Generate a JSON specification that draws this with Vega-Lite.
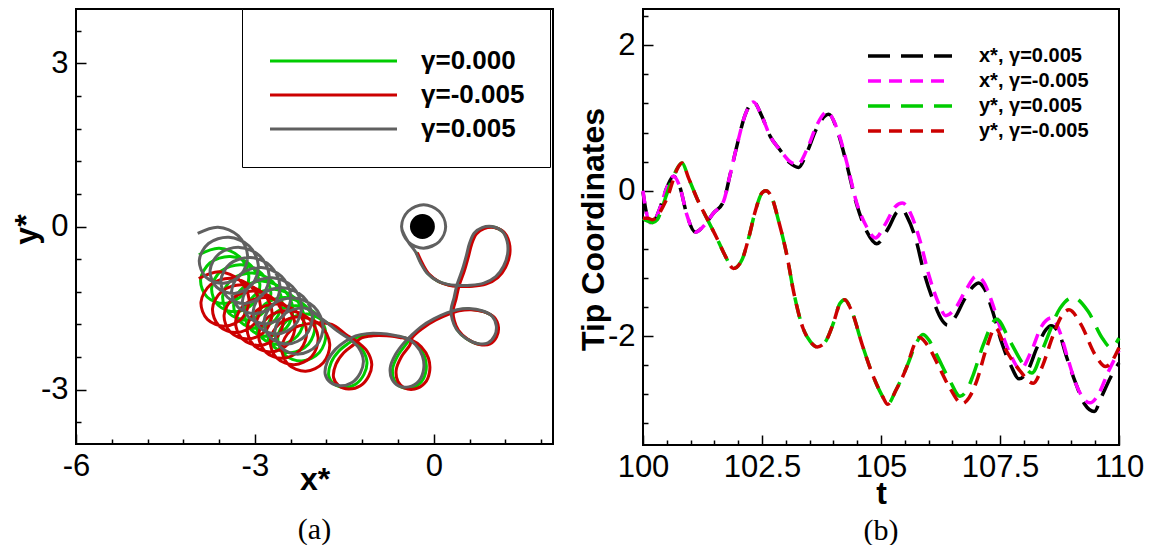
{
"$schema": "https://vega.github.io/schema/vega-lite/v6.json",
"background": "white",
"padding": {"left": 9, "top": 7, "right": 5, "bottom": 0},
"spacing": 90,
"bounds": "flush",
"resolve": {"scale": {"color": "independent", "strokeDash": "independent"}},
"config": {
  "view": {"stroke": "black", "strokeWidth": 2},
  "axis": {"grid": false, "domain": false, "tickColor": "black", "tickWidth": 1.5,
    "labelFont": "Liberation Sans", "labelFontSize": 31, "labelColor": "black", "labelFlush": false, "labelOverlap": false,
    "titleFont": "Liberation Sans", "titleFontSize": 32, "titleFontWeight": "bold", "titleColor": "black"},
  "title": {"font": "Liberation Serif", "fontSize": 30, "fontWeight": "normal", "color": "black"}
},
"datasets": {
"dot": [{"x": -0.19, "y": 0}],
"traj": [
{"g":"γ=0.000","x":-0.295,"y":-0.47},{"g":"γ=0.000","x":-0.205,"y":-0.68},{"g":"γ=0.000","x":-0.095,"y":-0.87},{"g":"γ=0.000","x":0.075,"y":-1.01},{"g":"γ=0.000","x":0.235,"y":-1.07},{"g":"γ=0.000","x":0.375,"y":-1.09},{"g":"γ=0.000","x":0.635,"y":-1.09},{"g":"γ=0.000","x":0.855,"y":-1.05},{"g":"γ=0.000","x":1.055,"y":-0.93},{"g":"γ=0.000","x":1.185,"y":-0.74},{"g":"γ=0.000","x":1.255,"y":-0.5},{"g":"γ=0.000","x":1.245,"y":-0.28},{"g":"γ=0.000","x":1.165,"y":-0.1},{"g":"γ=0.000","x":0.995,"y":-0.01},{"g":"γ=0.000","x":0.825,"y":-0.03},{"g":"γ=0.000","x":0.695,"y":-0.13},{"g":"γ=0.000","x":0.615,"y":-0.32},{"g":"γ=0.000","x":0.565,"y":-0.53},{"g":"γ=0.000","x":0.495,"y":-0.8},{"g":"γ=0.000","x":0.405,"y":-1.08},{"g":"γ=0.000","x":0.355,"y":-1.32},{"g":"γ=0.000","x":0.305,"y":-1.54},{"g":"γ=0.000","x":0.325,"y":-1.72},{"g":"γ=0.000","x":0.395,"y":-1.9},{"g":"γ=0.000","x":0.545,"y":-2.06},{"g":"γ=0.000","x":0.745,"y":-2.16},{"g":"γ=0.000","x":0.925,"y":-2.15},{"g":"γ=0.000","x":1.035,"y":-2.02},{"g":"γ=0.000","x":1.065,"y":-1.84},{"g":"γ=0.000","x":0.995,"y":-1.66},{"g":"γ=0.000","x":0.825,"y":-1.56},{"g":"γ=0.000","x":0.605,"y":-1.52},{"g":"γ=0.000","x":0.405,"y":-1.54},{"g":"γ=0.000","x":0.235,"y":-1.6},{"g":"γ=0.000","x":0.015,"y":-1.71},{"g":"γ=0.000","x":-0.205,"y":-1.86},{"g":"γ=0.000","x":-0.385,"y":-2.04},
{"g":"γ=0.000","x":-0.46,"y":-2.16},{"g":"γ=0.000","x":-0.6,"y":-2.37},{"g":"γ=0.000","x":-0.69,"y":-2.62},{"g":"γ=0.000","x":-0.66,"y":-2.83},{"g":"γ=0.000","x":-0.55,"y":-2.95},{"g":"γ=0.000","x":-0.38,"y":-2.97},{"g":"γ=0.000","x":-0.21,"y":-2.86},{"g":"γ=0.000","x":-0.13,"y":-2.65},{"g":"γ=0.000","x":-0.15,"y":-2.4},{"g":"γ=0.000","x":-0.27,"y":-2.19},{"g":"γ=0.000","x":-0.43,"y":-2.07},{"g":"γ=0.000","x":-0.63,"y":-2.02},{"g":"γ=0.000","x":-0.85,"y":-1.99},{"g":"γ=0.000","x":-1.08,"y":-1.99},{"g":"γ=0.000","x":-1.27,"y":-2.03},
{"g":"γ=0.000","x":-1.42,"y":-2.14},{"g":"γ=0.000","x":-1.59,"y":-2.29},{"g":"γ=0.000","x":-1.72,"y":-2.5},{"g":"γ=0.000","x":-1.76,"y":-2.75},{"g":"γ=0.000","x":-1.67,"y":-2.9},{"g":"γ=0.000","x":-1.51,"y":-2.96},{"g":"γ=0.000","x":-1.31,"y":-2.9},{"g":"γ=0.000","x":-1.17,"y":-2.72},{"g":"γ=0.000","x":-1.12,"y":-2.5},{"g":"γ=0.000","x":-1.2,"y":-2.26},{"g":"γ=0.000","x":-1.34,"y":-2.11},{"g":"γ=0.000","x":-1.56,"y":-1.95},{"g":"γ=0.000","x":-1.79,"y":-1.77},
{"g":"γ=0.000","x":-2.12,"y":-1.61},{"g":"γ=0.000","x":-2.461,"y":-1.729},{"g":"γ=0.000","x":-2.616,"y":-2.042},{"g":"γ=0.000","x":-2.507,"y":-2.355},{"g":"γ=0.000","x":-2.212,"y":-2.474},{"g":"γ=0.000","x":-1.918,"y":-2.318},{"g":"γ=0.000","x":-1.809,"y":-1.967},{"g":"γ=0.000","x":-1.964,"y":-1.616},
{"g":"γ=0.000","x":-2.305,"y":-1.459},{"g":"γ=0.000","x":-2.646,"y":-1.578},{"g":"γ=0.000","x":-2.801,"y":-1.891},{"g":"γ=0.000","x":-2.692,"y":-2.204},{"g":"γ=0.000","x":-2.397,"y":-2.323},{"g":"γ=0.000","x":-2.102,"y":-2.166},{"g":"γ=0.000","x":-1.993,"y":-1.815},{"g":"γ=0.000","x":-2.149,"y":-1.465},
{"g":"γ=0.000","x":-2.49,"y":-1.308},{"g":"γ=0.000","x":-2.831,"y":-1.427},{"g":"γ=0.000","x":-2.986,"y":-1.74},{"g":"γ=0.000","x":-2.877,"y":-2.053},{"g":"γ=0.000","x":-2.582,"y":-2.172},{"g":"γ=0.000","x":-2.287,"y":-2.015},{"g":"γ=0.000","x":-2.178,"y":-1.664},{"g":"γ=0.000","x":-2.333,"y":-1.313},
{"g":"γ=0.000","x":-2.674,"y":-1.156},{"g":"γ=0.000","x":-3.016,"y":-1.276},{"g":"γ=0.000","x":-3.171,"y":-1.589},{"g":"γ=0.000","x":-3.062,"y":-1.902},{"g":"γ=0.000","x":-2.767,"y":-2.021},{"g":"γ=0.000","x":-2.472,"y":-1.864},{"g":"γ=0.000","x":-2.363,"y":-1.513},{"g":"γ=0.000","x":-2.518,"y":-1.162},
{"g":"γ=0.000","x":-2.859,"y":-1.005},{"g":"γ=0.000","x":-3.2,"y":-1.124},{"g":"γ=0.000","x":-3.355,"y":-1.437},{"g":"γ=0.000","x":-3.247,"y":-1.751},{"g":"γ=0.000","x":-2.952,"y":-1.87},{"g":"γ=0.000","x":-2.657,"y":-1.713},{"g":"γ=0.000","x":-2.548,"y":-1.362},{"g":"γ=0.000","x":-2.703,"y":-1.011},
{"g":"γ=0.000","x":-3.044,"y":-0.854},{"g":"γ=0.000","x":-3.385,"y":-0.973},{"g":"γ=0.000","x":-3.54,"y":-1.286},{"g":"γ=0.000","x":-3.431,"y":-1.599},{"g":"γ=0.000","x":-3.136,"y":-1.718},{"g":"γ=0.000","x":-2.842,"y":-1.562},{"g":"γ=0.000","x":-2.733,"y":-1.211},{"g":"γ=0.000","x":-2.888,"y":-0.86},
{"g":"γ=0.000","x":-3.229,"y":-0.703},{"g":"γ=0.000","x":-3.57,"y":-0.822},{"g":"γ=0.000","x":-3.725,"y":-1.135},{"g":"γ=0.000","x":-3.616,"y":-1.448},{"g":"γ=0.000","x":-3.321,"y":-1.567},{"g":"γ=0.000","x":-3.026,"y":-1.41},{"g":"γ=0.000","x":-2.917,"y":-1.059},{"g":"γ=0.000","x":-3.073,"y":-0.709},
{"g":"γ=0.000","x":-3.414,"y":-0.552},{"g":"γ=0.000","x":-3.755,"y":-0.671},{"g":"γ=0.000","x":-3.91,"y":-0.984},{"g":"γ=0.000","x":-3.801,"y":-1.297},{"g":"γ=0.000","x":-3.506,"y":-1.416},{"g":"γ=0.000","x":-3.211,"y":-1.259},{"g":"γ=0.000","x":-3.102,"y":-0.908},{"g":"γ=0.000","x":-3.257,"y":-0.557},
{"g":"γ=0.000","x":-3.598,"y":-0.4},{"g":"γ=0.000","x":-3.939,"y":-0.519},

{"g":"γ=-0.005","x":-0.275,"y":-0.48},{"g":"γ=-0.005","x":-0.185,"y":-0.69},{"g":"γ=-0.005","x":-0.075,"y":-0.88},{"g":"γ=-0.005","x":0.095,"y":-1.02},{"g":"γ=-0.005","x":0.255,"y":-1.08},{"g":"γ=-0.005","x":0.395,"y":-1.1},{"g":"γ=-0.005","x":0.655,"y":-1.1},{"g":"γ=-0.005","x":0.875,"y":-1.06},{"g":"γ=-0.005","x":1.075,"y":-0.94},{"g":"γ=-0.005","x":1.205,"y":-0.75},{"g":"γ=-0.005","x":1.275,"y":-0.51},{"g":"γ=-0.005","x":1.265,"y":-0.29},{"g":"γ=-0.005","x":1.185,"y":-0.11},{"g":"γ=-0.005","x":1.015,"y":-0.02},{"g":"γ=-0.005","x":0.845,"y":-0.04},{"g":"γ=-0.005","x":0.715,"y":-0.14},{"g":"γ=-0.005","x":0.635,"y":-0.33},{"g":"γ=-0.005","x":0.585,"y":-0.54},{"g":"γ=-0.005","x":0.515,"y":-0.81},{"g":"γ=-0.005","x":0.425,"y":-1.09},{"g":"γ=-0.005","x":0.375,"y":-1.33},{"g":"γ=-0.005","x":0.325,"y":-1.55},{"g":"γ=-0.005","x":0.345,"y":-1.73},{"g":"γ=-0.005","x":0.415,"y":-1.91},{"g":"γ=-0.005","x":0.565,"y":-2.07},{"g":"γ=-0.005","x":0.765,"y":-2.17},{"g":"γ=-0.005","x":0.945,"y":-2.16},{"g":"γ=-0.005","x":1.055,"y":-2.03},{"g":"γ=-0.005","x":1.085,"y":-1.85},{"g":"γ=-0.005","x":1.015,"y":-1.67},{"g":"γ=-0.005","x":0.845,"y":-1.57},{"g":"γ=-0.005","x":0.625,"y":-1.53},{"g":"γ=-0.005","x":0.425,"y":-1.55},{"g":"γ=-0.005","x":0.255,"y":-1.61},{"g":"γ=-0.005","x":0.035,"y":-1.72},{"g":"γ=-0.005","x":-0.185,"y":-1.87},{"g":"γ=-0.005","x":-0.365,"y":-2.05},
{"g":"γ=-0.005","x":-0.4,"y":-2.18},{"g":"γ=-0.005","x":-0.54,"y":-2.39},{"g":"γ=-0.005","x":-0.63,"y":-2.64},{"g":"γ=-0.005","x":-0.6,"y":-2.85},{"g":"γ=-0.005","x":-0.49,"y":-2.97},{"g":"γ=-0.005","x":-0.32,"y":-2.99},{"g":"γ=-0.005","x":-0.15,"y":-2.88},{"g":"γ=-0.005","x":-0.07,"y":-2.67},{"g":"γ=-0.005","x":-0.09,"y":-2.42},{"g":"γ=-0.005","x":-0.21,"y":-2.21},{"g":"γ=-0.005","x":-0.37,"y":-2.09},{"g":"γ=-0.005","x":-0.57,"y":-2.04},{"g":"γ=-0.005","x":-0.79,"y":-2.01},{"g":"γ=-0.005","x":-1.02,"y":-2.01},{"g":"γ=-0.005","x":-1.21,"y":-2.05},
{"g":"γ=-0.005","x":-1.34,"y":-2.17},{"g":"γ=-0.005","x":-1.51,"y":-2.32},{"g":"γ=-0.005","x":-1.64,"y":-2.53},{"g":"γ=-0.005","x":-1.68,"y":-2.78},{"g":"γ=-0.005","x":-1.59,"y":-2.93},{"g":"γ=-0.005","x":-1.43,"y":-2.99},{"g":"γ=-0.005","x":-1.23,"y":-2.93},{"g":"γ=-0.005","x":-1.09,"y":-2.75},{"g":"γ=-0.005","x":-1.04,"y":-2.53},{"g":"γ=-0.005","x":-1.12,"y":-2.29},{"g":"γ=-0.005","x":-1.26,"y":-2.14},{"g":"γ=-0.005","x":-1.48,"y":-1.98},{"g":"γ=-0.005","x":-1.71,"y":-1.8},
{"g":"γ=-0.005","x":-2.05,"y":-1.78},{"g":"γ=-0.005","x":-2.392,"y":-1.903},{"g":"γ=-0.005","x":-2.548,"y":-2.22},{"g":"γ=-0.005","x":-2.441,"y":-2.538},{"g":"γ=-0.005","x":-2.147,"y":-2.661},{"g":"γ=-0.005","x":-1.853,"y":-2.508},{"g":"γ=-0.005","x":-1.745,"y":-2.161},{"g":"γ=-0.005","x":-1.901,"y":-1.814},
{"g":"γ=-0.005","x":-2.244,"y":-1.662},{"g":"γ=-0.005","x":-2.586,"y":-1.785},{"g":"γ=-0.005","x":-2.742,"y":-2.102},{"g":"γ=-0.005","x":-2.634,"y":-2.419},{"g":"γ=-0.005","x":-2.34,"y":-2.542},{"g":"γ=-0.005","x":-2.047,"y":-2.39},{"g":"γ=-0.005","x":-1.939,"y":-2.043},{"g":"γ=-0.005","x":-2.095,"y":-1.696},
{"g":"γ=-0.005","x":-2.437,"y":-1.543},{"g":"γ=-0.005","x":-2.779,"y":-1.666},{"g":"γ=-0.005","x":-2.936,"y":-1.984},{"g":"γ=-0.005","x":-2.828,"y":-2.301},{"g":"γ=-0.005","x":-2.534,"y":-2.424},{"g":"γ=-0.005","x":-2.24,"y":-2.271},{"g":"γ=-0.005","x":-2.132,"y":-1.924},{"g":"γ=-0.005","x":-2.289,"y":-1.578},
{"g":"γ=-0.005","x":-2.631,"y":-1.425},{"g":"γ=-0.005","x":-2.973,"y":-1.548},{"g":"γ=-0.005","x":-3.129,"y":-1.865},{"g":"γ=-0.005","x":-3.021,"y":-2.182},{"g":"γ=-0.005","x":-2.728,"y":-2.306},{"g":"γ=-0.005","x":-2.434,"y":-2.153},{"g":"γ=-0.005","x":-2.326,"y":-1.806},{"g":"γ=-0.005","x":-2.482,"y":-1.459},
{"g":"γ=-0.005","x":-2.824,"y":-1.306},{"g":"γ=-0.005","x":-3.167,"y":-1.43},{"g":"γ=-0.005","x":-3.323,"y":-1.747},{"g":"γ=-0.005","x":-3.215,"y":-2.064},{"g":"γ=-0.005","x":-2.921,"y":-2.187},{"g":"γ=-0.005","x":-2.627,"y":-2.034},{"g":"γ=-0.005","x":-2.52,"y":-1.688},{"g":"γ=-0.005","x":-2.676,"y":-1.341},
{"g":"γ=-0.005","x":-3.018,"y":-1.188},{"g":"γ=-0.005","x":-3.36,"y":-1.311},{"g":"γ=-0.005","x":-3.516,"y":-1.628},{"g":"γ=-0.005","x":-3.409,"y":-1.946},{"g":"γ=-0.005","x":-3.115,"y":-2.069},{"g":"γ=-0.005","x":-2.821,"y":-1.916},{"g":"γ=-0.005","x":-2.713,"y":-1.569},{"g":"γ=-0.005","x":-2.869,"y":-1.222},
{"g":"γ=-0.005","x":-3.212,"y":-1.07},{"g":"γ=-0.005","x":-3.554,"y":-1.193},{"g":"γ=-0.005","x":-3.71,"y":-1.51},{"g":"γ=-0.005","x":-3.602,"y":-1.827},{"g":"γ=-0.005","x":-3.308,"y":-1.95},{"g":"γ=-0.005","x":-3.015,"y":-1.798},{"g":"γ=-0.005","x":-2.907,"y":-1.451},{"g":"γ=-0.005","x":-3.063,"y":-1.104},
{"g":"γ=-0.005","x":-3.405,"y":-0.951},{"g":"γ=-0.005","x":-3.747,"y":-1.074},{"g":"γ=-0.005","x":-3.904,"y":-1.392},{"g":"γ=-0.005","x":-3.796,"y":-1.709},{"g":"γ=-0.005","x":-3.502,"y":-1.832},{"g":"γ=-0.005","x":-3.208,"y":-1.679},{"g":"γ=-0.005","x":-3.1,"y":-1.332},{"g":"γ=-0.005","x":-3.257,"y":-0.986},
{"g":"γ=-0.005","x":-3.599,"y":-0.833},{"g":"γ=-0.005","x":-3.941,"y":-0.956},

{"g":"γ=0.005","x":-0.17,"y":-0.4},{"g":"γ=0.005","x":0.09,"y":-0.28},{"g":"γ=0.005","x":0.2,"y":0},{"g":"γ=0.005","x":0.09,"y":0.28},{"g":"γ=0.005","x":-0.17,"y":0.4},{"g":"γ=0.005","x":-0.43,"y":0.28},{"g":"γ=0.005","x":-0.54,"y":0},{"g":"γ=0.005","x":-0.43,"y":-0.28},{"g":"γ=0.005","x":-0.17,"y":-0.4},{"g":"γ=0.005","x":0.09,"y":-0.28},{"g":"γ=0.005","x":0.2,"y":0},{"g":"γ=0.005","x":0.09,"y":0.28},{"g":"γ=0.005","x":-0.17,"y":0.4},{"g":"γ=0.005","x":-0.43,"y":0.28},{"g":"γ=0.005","x":-0.54,"y":0},{"g":"γ=0.005","x":-0.43,"y":-0.28},
{"g":"γ=0.005","x":-0.31,"y":-0.46},{"g":"γ=0.005","x":-0.22,"y":-0.67},{"g":"γ=0.005","x":-0.11,"y":-0.86},{"g":"γ=0.005","x":0.06,"y":-1.0},{"g":"γ=0.005","x":0.22,"y":-1.06},{"g":"γ=0.005","x":0.36,"y":-1.08},{"g":"γ=0.005","x":0.62,"y":-1.08},{"g":"γ=0.005","x":0.84,"y":-1.04},{"g":"γ=0.005","x":1.04,"y":-0.92},{"g":"γ=0.005","x":1.17,"y":-0.73},{"g":"γ=0.005","x":1.24,"y":-0.49},{"g":"γ=0.005","x":1.23,"y":-0.27},{"g":"γ=0.005","x":1.15,"y":-0.09},{"g":"γ=0.005","x":0.98,"y":0.0},{"g":"γ=0.005","x":0.81,"y":-0.02},{"g":"γ=0.005","x":0.68,"y":-0.12},{"g":"γ=0.005","x":0.6,"y":-0.31},{"g":"γ=0.005","x":0.55,"y":-0.52},{"g":"γ=0.005","x":0.48,"y":-0.79},{"g":"γ=0.005","x":0.39,"y":-1.07},{"g":"γ=0.005","x":0.34,"y":-1.31},{"g":"γ=0.005","x":0.29,"y":-1.53},{"g":"γ=0.005","x":0.31,"y":-1.71},{"g":"γ=0.005","x":0.38,"y":-1.89},{"g":"γ=0.005","x":0.53,"y":-2.05},{"g":"γ=0.005","x":0.73,"y":-2.15},{"g":"γ=0.005","x":0.91,"y":-2.14},{"g":"γ=0.005","x":1.02,"y":-2.01},{"g":"γ=0.005","x":1.05,"y":-1.83},{"g":"γ=0.005","x":0.98,"y":-1.65},{"g":"γ=0.005","x":0.81,"y":-1.55},{"g":"γ=0.005","x":0.59,"y":-1.51},{"g":"γ=0.005","x":0.39,"y":-1.53},{"g":"γ=0.005","x":0.22,"y":-1.59},{"g":"γ=0.005","x":0.0,"y":-1.7},{"g":"γ=0.005","x":-0.22,"y":-1.85},{"g":"γ=0.005","x":-0.4,"y":-2.03},
{"g":"γ=0.005","x":-0.5,"y":-2.14},{"g":"γ=0.005","x":-0.64,"y":-2.35},{"g":"γ=0.005","x":-0.73,"y":-2.6},{"g":"γ=0.005","x":-0.7,"y":-2.81},{"g":"γ=0.005","x":-0.59,"y":-2.93},{"g":"γ=0.005","x":-0.42,"y":-2.95},{"g":"γ=0.005","x":-0.25,"y":-2.84},{"g":"γ=0.005","x":-0.17,"y":-2.63},{"g":"γ=0.005","x":-0.19,"y":-2.38},{"g":"γ=0.005","x":-0.31,"y":-2.17},{"g":"γ=0.005","x":-0.47,"y":-2.05},{"g":"γ=0.005","x":-0.67,"y":-2.0},{"g":"γ=0.005","x":-0.89,"y":-1.97},{"g":"γ=0.005","x":-1.12,"y":-1.97},{"g":"γ=0.005","x":-1.31,"y":-2.01},
{"g":"γ=0.005","x":-1.48,"y":-2.11},{"g":"γ=0.005","x":-1.65,"y":-2.26},{"g":"γ=0.005","x":-1.78,"y":-2.47},{"g":"γ=0.005","x":-1.82,"y":-2.72},{"g":"γ=0.005","x":-1.73,"y":-2.87},{"g":"γ=0.005","x":-1.57,"y":-2.93},{"g":"γ=0.005","x":-1.37,"y":-2.87},{"g":"γ=0.005","x":-1.23,"y":-2.69},{"g":"γ=0.005","x":-1.18,"y":-2.47},{"g":"γ=0.005","x":-1.26,"y":-2.23},{"g":"γ=0.005","x":-1.4,"y":-2.08},{"g":"γ=0.005","x":-1.62,"y":-1.92},{"g":"γ=0.005","x":-1.85,"y":-1.72},
{"g":"γ=0.005","x":-2.17,"y":-1.5},{"g":"γ=0.005","x":-2.511,"y":-1.615},{"g":"γ=0.005","x":-2.665,"y":-1.924},{"g":"γ=0.005","x":-2.556,"y":-2.232},{"g":"γ=0.005","x":-2.261,"y":-2.347},{"g":"γ=0.005","x":-1.965,"y":-2.186},{"g":"γ=0.005","x":-1.856,"y":-1.831},{"g":"γ=0.005","x":-2.01,"y":-1.475},
{"g":"γ=0.005","x":-2.351,"y":-1.314},{"g":"γ=0.005","x":-2.692,"y":-1.429},{"g":"γ=0.005","x":-2.846,"y":-1.738},{"g":"γ=0.005","x":-2.737,"y":-2.046},{"g":"γ=0.005","x":-2.442,"y":-2.161},{"g":"γ=0.005","x":-2.146,"y":-2.0},{"g":"γ=0.005","x":-2.037,"y":-1.645},{"g":"γ=0.005","x":-2.191,"y":-1.289},
{"g":"γ=0.005","x":-2.532,"y":-1.128},{"g":"γ=0.005","x":-2.873,"y":-1.243},{"g":"γ=0.005","x":-3.027,"y":-1.552},{"g":"γ=0.005","x":-2.918,"y":-1.86},{"g":"γ=0.005","x":-2.623,"y":-1.975},{"g":"γ=0.005","x":-2.327,"y":-1.814},{"g":"γ=0.005","x":-2.218,"y":-1.459},{"g":"γ=0.005","x":-2.372,"y":-1.103},
{"g":"γ=0.005","x":-2.713,"y":-0.942},{"g":"γ=0.005","x":-3.054,"y":-1.057},{"g":"γ=0.005","x":-3.208,"y":-1.366},{"g":"γ=0.005","x":-3.099,"y":-1.674},{"g":"γ=0.005","x":-2.804,"y":-1.789},{"g":"γ=0.005","x":-2.508,"y":-1.628},{"g":"γ=0.005","x":-2.399,"y":-1.273},{"g":"γ=0.005","x":-2.553,"y":-0.917},
{"g":"γ=0.005","x":-2.894,"y":-0.756},{"g":"γ=0.005","x":-3.235,"y":-0.871},{"g":"γ=0.005","x":-3.389,"y":-1.18},{"g":"γ=0.005","x":-3.28,"y":-1.488},{"g":"γ=0.005","x":-2.985,"y":-1.603},{"g":"γ=0.005","x":-2.689,"y":-1.442},{"g":"γ=0.005","x":-2.58,"y":-1.087},{"g":"γ=0.005","x":-2.734,"y":-0.731},
{"g":"γ=0.005","x":-3.075,"y":-0.57},{"g":"γ=0.005","x":-3.416,"y":-0.685},{"g":"γ=0.005","x":-3.57,"y":-0.994},{"g":"γ=0.005","x":-3.461,"y":-1.302},{"g":"γ=0.005","x":-3.166,"y":-1.417},{"g":"γ=0.005","x":-2.87,"y":-1.256},{"g":"γ=0.005","x":-2.761,"y":-0.901},{"g":"γ=0.005","x":-2.915,"y":-0.545},
{"g":"γ=0.005","x":-3.256,"y":-0.384},{"g":"γ=0.005","x":-3.597,"y":-0.499},{"g":"γ=0.005","x":-3.751,"y":-0.808},{"g":"γ=0.005","x":-3.642,"y":-1.116},{"g":"γ=0.005","x":-3.347,"y":-1.231},{"g":"γ=0.005","x":-3.051,"y":-1.07},{"g":"γ=0.005","x":-2.942,"y":-0.715},{"g":"γ=0.005","x":-3.096,"y":-0.359},
{"g":"γ=0.005","x":-3.437,"y":-0.198},{"g":"γ=0.005","x":-3.778,"y":-0.313},{"g":"γ=0.005","x":-3.932,"y":-0.622},{"g":"γ=0.005","x":-3.823,"y":-0.93},{"g":"γ=0.005","x":-3.528,"y":-1.045},{"g":"γ=0.005","x":-3.232,"y":-0.884},{"g":"γ=0.005","x":-3.123,"y":-0.529},{"g":"γ=0.005","x":-3.277,"y":-0.173},
{"g":"γ=0.005","x":-3.618,"y":-0.012},{"g":"γ=0.005","x":-3.959,"y":-0.127}
],
"ts": [
{"s":"x*, γ=0.005","t":100.0,"v":-0.02},{"s":"x*, γ=0.005","t":100.07,"v":-0.3},{"s":"x*, γ=0.005","t":100.15,"v":-0.44},{"s":"x*, γ=0.005","t":100.25,"v":-0.4},{"s":"x*, γ=0.005","t":100.35,"v":-0.25},{"s":"x*, γ=0.005","t":100.5,"v":0.04},{"s":"x*, γ=0.005","t":100.64,"v":0.2},{"s":"x*, γ=0.005","t":100.78,"v":0.04},{"s":"x*, γ=0.005","t":100.92,"v":-0.33},{"s":"x*, γ=0.005","t":101.1,"v":-0.57},{"s":"x*, γ=0.005","t":101.27,"v":-0.49},{"s":"x*, γ=0.005","t":101.48,"v":-0.31},{"s":"x*, γ=0.005","t":101.69,"v":-0.15},{"s":"x*, γ=0.005","t":101.83,"v":0.22},{"s":"x*, γ=0.005","t":101.97,"v":0.61},{"s":"x*, γ=0.005","t":102.15,"v":1.05},{"s":"x*, γ=0.005","t":102.32,"v":1.22},{"s":"x*, γ=0.005","t":102.5,"v":1.02},{"s":"x*, γ=0.005","t":102.67,"v":0.75},{"s":"x*, γ=0.005","t":102.88,"v":0.56},{"s":"x*, γ=0.005","t":103.09,"v":0.38},{"s":"x*, γ=0.005","t":103.27,"v":0.32},{"s":"x*, γ=0.005","t":103.44,"v":0.52},{"s":"x*, γ=0.005","t":103.65,"v":0.86},{"s":"x*, γ=0.005","t":103.9,"v":1.05},{"s":"x*, γ=0.005","t":104.11,"v":0.77},{"s":"x*, γ=0.005","t":104.28,"v":0.36},{"s":"x*, γ=0.005","t":104.49,"v":-0.19},{"s":"x*, γ=0.005","t":104.7,"v":-0.56},{"s":"x*, γ=0.005","t":104.91,"v":-0.73},{"s":"x*, γ=0.005","t":105.16,"v":-0.51},{"s":"x*, γ=0.005","t":105.33,"v":-0.3},{"s":"x*, γ=0.005","t":105.45,"v":-0.26},{"s":"x*, γ=0.005","t":105.55,"v":-0.36},{"s":"x*, γ=0.005","t":105.74,"v":-0.69},{"s":"x*, γ=0.005","t":105.9,"v":-1.12},{"s":"x*, γ=0.005","t":106.09,"v":-1.5},{"s":"x*, γ=0.005","t":106.29,"v":-1.79},{"s":"x*, γ=0.005","t":106.4,"v":-1.85},{"s":"x*, γ=0.005","t":106.56,"v":-1.74},{"s":"x*, γ=0.005","t":106.75,"v":-1.5},{"s":"x*, γ=0.005","t":106.95,"v":-1.31},{"s":"x*, γ=0.005","t":107.05,"v":-1.27},{"s":"x*, γ=0.005","t":107.18,"v":-1.36},{"s":"x*, γ=0.005","t":107.34,"v":-1.65},{"s":"x*, γ=0.005","t":107.53,"v":-2.08},{"s":"x*, γ=0.005","t":107.73,"v":-2.41},{"s":"x*, γ=0.005","t":107.9,"v":-2.59},{"s":"x*, γ=0.005","t":108.08,"v":-2.48},{"s":"x*, γ=0.005","t":108.27,"v":-2.17},{"s":"x*, γ=0.005","t":108.47,"v":-1.91},{"s":"x*, γ=0.005","t":108.57,"v":-1.86},{"s":"x*, γ=0.005","t":108.74,"v":-1.96},{"s":"x*, γ=0.005","t":108.89,"v":-2.27},{"s":"x*, γ=0.005","t":109.09,"v":-2.65},{"s":"x*, γ=0.005","t":109.28,"v":-2.94},{"s":"x*, γ=0.005","t":109.48,"v":-3.04},{"s":"x*, γ=0.005","t":109.63,"v":-2.84},{"s":"x*, γ=0.005","t":109.83,"v":-2.56},{"s":"x*, γ=0.005","t":110.0,"v":-2.37},

{"s":"x*, γ=-0.005","t":100.0,"v":0.0},{"s":"x*, γ=-0.005","t":100.07,"v":-0.3},{"s":"x*, γ=-0.005","t":100.15,"v":-0.44},{"s":"x*, γ=-0.005","t":100.25,"v":-0.4},{"s":"x*, γ=-0.005","t":100.35,"v":-0.25},{"s":"x*, γ=-0.005","t":100.5,"v":0.04},{"s":"x*, γ=-0.005","t":100.64,"v":0.2},{"s":"x*, γ=-0.005","t":100.78,"v":0.04},{"s":"x*, γ=-0.005","t":100.92,"v":-0.33},{"s":"x*, γ=-0.005","t":101.1,"v":-0.57},{"s":"x*, γ=-0.005","t":101.27,"v":-0.49},{"s":"x*, γ=-0.005","t":101.48,"v":-0.31},{"s":"x*, γ=-0.005","t":101.69,"v":-0.15},{"s":"x*, γ=-0.005","t":101.83,"v":0.22},{"s":"x*, γ=-0.005","t":101.97,"v":0.61},{"s":"x*, γ=-0.005","t":102.15,"v":1.05},{"s":"x*, γ=-0.005","t":102.32,"v":1.22},{"s":"x*, γ=-0.005","t":102.5,"v":1.02},{"s":"x*, γ=-0.005","t":102.67,"v":0.75},{"s":"x*, γ=-0.005","t":102.88,"v":0.56},{"s":"x*, γ=-0.005","t":103.09,"v":0.4},{"s":"x*, γ=-0.005","t":103.25,"v":0.36},{"s":"x*, γ=-0.005","t":103.44,"v":0.56},{"s":"x*, γ=-0.005","t":103.65,"v":0.9},{"s":"x*, γ=-0.005","t":103.86,"v":1.08},{"s":"x*, γ=-0.005","t":104.11,"v":0.79},{"s":"x*, γ=-0.005","t":104.28,"v":0.39},{"s":"x*, γ=-0.005","t":104.49,"v":-0.17},{"s":"x*, γ=-0.005","t":104.7,"v":-0.5},{"s":"x*, γ=-0.005","t":104.88,"v":-0.65},{"s":"x*, γ=-0.005","t":105.1,"v":-0.45},{"s":"x*, γ=-0.005","t":105.3,"v":-0.22},{"s":"x*, γ=-0.005","t":105.45,"v":-0.17},{"s":"x*, γ=-0.005","t":105.62,"v":-0.31},{"s":"x*, γ=-0.005","t":105.82,"v":-0.69},{"s":"x*, γ=-0.005","t":106.01,"v":-1.17},{"s":"x*, γ=-0.005","t":106.21,"v":-1.55},{"s":"x*, γ=-0.005","t":106.36,"v":-1.72},{"s":"x*, γ=-0.005","t":106.56,"v":-1.62},{"s":"x*, γ=-0.005","t":106.79,"v":-1.36},{"s":"x*, γ=-0.005","t":107.0,"v":-1.18},{"s":"x*, γ=-0.005","t":107.14,"v":-1.24},{"s":"x*, γ=-0.005","t":107.34,"v":-1.55},{"s":"x*, γ=-0.005","t":107.53,"v":-1.94},{"s":"x*, γ=-0.005","t":107.73,"v":-2.27},{"s":"x*, γ=-0.005","t":107.93,"v":-2.46},{"s":"x*, γ=-0.005","t":108.15,"v":-2.22},{"s":"x*, γ=-0.005","t":108.38,"v":-1.86},{"s":"x*, γ=-0.005","t":108.59,"v":-1.75},{"s":"x*, γ=-0.005","t":108.76,"v":-1.95},{"s":"x*, γ=-0.005","t":108.92,"v":-2.3},{"s":"x*, γ=-0.005","t":109.12,"v":-2.7},{"s":"x*, γ=-0.005","t":109.39,"v":-2.92},{"s":"x*, γ=-0.005","t":109.57,"v":-2.8},{"s":"x*, γ=-0.005","t":109.77,"v":-2.5},{"s":"x*, γ=-0.005","t":110.0,"v":-2.2},

{"s":"y*, γ=0.005","t":100.0,"v":-0.38},{"s":"y*, γ=0.005","t":100.1,"v":-0.42},{"s":"y*, γ=0.005","t":100.2,"v":-0.44},{"s":"y*, γ=0.005","t":100.3,"v":-0.4},{"s":"y*, γ=0.005","t":100.42,"v":-0.2},{"s":"y*, γ=0.005","t":100.55,"v":0.05},{"s":"y*, γ=0.005","t":100.64,"v":0.2},{"s":"y*, γ=0.005","t":100.74,"v":0.33},{"s":"y*, γ=0.005","t":100.82,"v":0.38},{"s":"y*, γ=0.005","t":100.96,"v":0.17},{"s":"y*, γ=0.005","t":101.13,"v":-0.1},{"s":"y*, γ=0.005","t":101.34,"v":-0.38},{"s":"y*, γ=0.005","t":101.55,"v":-0.65},{"s":"y*, γ=0.005","t":101.73,"v":-0.9},{"s":"y*, γ=0.005","t":101.9,"v":-1.07},{"s":"y*, γ=0.005","t":102.08,"v":-0.95},{"s":"y*, γ=0.005","t":102.22,"v":-0.65},{"s":"y*, γ=0.005","t":102.36,"v":-0.28},{"s":"y*, γ=0.005","t":102.5,"v":-0.03},{"s":"y*, γ=0.005","t":102.58,"v":0.0},{"s":"y*, γ=0.005","t":102.71,"v":-0.1},{"s":"y*, γ=0.005","t":102.85,"v":-0.42},{"s":"y*, γ=0.005","t":103.02,"v":-0.88},{"s":"y*, γ=0.005","t":103.17,"v":-1.41},{"s":"y*, γ=0.005","t":103.36,"v":-1.89},{"s":"y*, γ=0.005","t":103.52,"v":-2.08},{"s":"y*, γ=0.005","t":103.66,"v":-2.15},{"s":"y*, γ=0.005","t":103.83,"v":-2.08},{"s":"y*, γ=0.005","t":103.99,"v":-1.84},{"s":"y*, γ=0.005","t":104.14,"v":-1.55},{"s":"y*, γ=0.005","t":104.24,"v":-1.5},{"s":"y*, γ=0.005","t":104.38,"v":-1.65},{"s":"y*, γ=0.005","t":104.61,"v":-2.13},{"s":"y*, γ=0.005","t":104.84,"v":-2.56},{"s":"y*, γ=0.005","t":105.04,"v":-2.84},{"s":"y*, γ=0.005","t":105.14,"v":-2.94},{"s":"y*, γ=0.005","t":105.31,"v":-2.75},{"s":"y*, γ=0.005","t":105.55,"v":-2.41},{"s":"y*, γ=0.005","t":105.74,"v":-2.1},{"s":"y*, γ=0.005","t":105.88,"v":-1.98},{"s":"y*, γ=0.005","t":106.0,"v":-2.05},{"s":"y*, γ=0.005","t":106.17,"v":-2.26},{"s":"y*, γ=0.005","t":106.45,"v":-2.62},{"s":"y*, γ=0.005","t":106.66,"v":-2.83},{"s":"y*, γ=0.005","t":106.8,"v":-2.75},{"s":"y*, γ=0.005","t":106.94,"v":-2.53},{"s":"y*, γ=0.005","t":107.15,"v":-2.12},{"s":"y*, γ=0.005","t":107.43,"v":-1.77},{"s":"y*, γ=0.005","t":107.71,"v":-2.07},{"s":"y*, γ=0.005","t":107.99,"v":-2.39},{"s":"y*, γ=0.005","t":108.17,"v":-2.51},{"s":"y*, γ=0.005","t":108.41,"v":-2.16},{"s":"y*, γ=0.005","t":108.76,"v":-1.62},{"s":"y*, γ=0.005","t":109.03,"v":-1.47},{"s":"y*, γ=0.005","t":109.35,"v":-1.66},{"s":"y*, γ=0.005","t":109.65,"v":-2.03},{"s":"y*, γ=0.005","t":109.83,"v":-2.16},{"s":"y*, γ=0.005","t":110.0,"v":-2.03},

{"s":"y*, γ=-0.005","t":100.0,"v":-0.38},{"s":"y*, γ=-0.005","t":100.1,"v":-0.38},{"s":"y*, γ=-0.005","t":100.2,"v":-0.4},{"s":"y*, γ=-0.005","t":100.3,"v":-0.35},{"s":"y*, γ=-0.005","t":100.42,"v":-0.22},{"s":"y*, γ=-0.005","t":100.52,"v":-0.08},{"s":"y*, γ=-0.005","t":100.62,"v":0.12},{"s":"y*, γ=-0.005","t":100.72,"v":0.3},{"s":"y*, γ=-0.005","t":100.82,"v":0.38},{"s":"y*, γ=-0.005","t":100.96,"v":0.17},{"s":"y*, γ=-0.005","t":101.13,"v":-0.1},{"s":"y*, γ=-0.005","t":101.34,"v":-0.38},{"s":"y*, γ=-0.005","t":101.55,"v":-0.65},{"s":"y*, γ=-0.005","t":101.73,"v":-0.9},{"s":"y*, γ=-0.005","t":101.9,"v":-1.07},{"s":"y*, γ=-0.005","t":102.08,"v":-0.95},{"s":"y*, γ=-0.005","t":102.22,"v":-0.65},{"s":"y*, γ=-0.005","t":102.36,"v":-0.28},{"s":"y*, γ=-0.005","t":102.5,"v":-0.03},{"s":"y*, γ=-0.005","t":102.58,"v":0.0},{"s":"y*, γ=-0.005","t":102.71,"v":-0.1},{"s":"y*, γ=-0.005","t":102.85,"v":-0.42},{"s":"y*, γ=-0.005","t":103.02,"v":-0.88},{"s":"y*, γ=-0.005","t":103.17,"v":-1.41},{"s":"y*, γ=-0.005","t":103.36,"v":-1.89},{"s":"y*, γ=-0.005","t":103.52,"v":-2.08},{"s":"y*, γ=-0.005","t":103.66,"v":-2.15},{"s":"y*, γ=-0.005","t":103.83,"v":-2.08},{"s":"y*, γ=-0.005","t":103.99,"v":-1.84},{"s":"y*, γ=-0.005","t":104.14,"v":-1.55},{"s":"y*, γ=-0.005","t":104.24,"v":-1.5},{"s":"y*, γ=-0.005","t":104.38,"v":-1.65},{"s":"y*, γ=-0.005","t":104.61,"v":-2.13},{"s":"y*, γ=-0.005","t":104.84,"v":-2.56},{"s":"y*, γ=-0.005","t":105.04,"v":-2.84},{"s":"y*, γ=-0.005","t":105.14,"v":-2.94},{"s":"y*, γ=-0.005","t":105.31,"v":-2.75},{"s":"y*, γ=-0.005","t":105.55,"v":-2.41},{"s":"y*, γ=-0.005","t":105.7,"v":-2.12},{"s":"y*, γ=-0.005","t":105.81,"v":-2.02},{"s":"y*, γ=-0.005","t":106.0,"v":-2.15},{"s":"y*, γ=-0.005","t":106.2,"v":-2.4},{"s":"y*, γ=-0.005","t":106.45,"v":-2.72},{"s":"y*, γ=-0.005","t":106.7,"v":-2.93},{"s":"y*, γ=-0.005","t":106.85,"v":-2.85},{"s":"y*, γ=-0.005","t":107.01,"v":-2.62},{"s":"y*, γ=-0.005","t":107.22,"v":-2.16},{"s":"y*, γ=-0.005","t":107.4,"v":-1.89},{"s":"y*, γ=-0.005","t":107.64,"v":-2.21},{"s":"y*, γ=-0.005","t":107.92,"v":-2.48},{"s":"y*, γ=-0.005","t":108.2,"v":-2.65},{"s":"y*, γ=-0.005","t":108.4,"v":-2.4},{"s":"y*, γ=-0.005","t":108.6,"v":-2.02},{"s":"y*, γ=-0.005","t":108.8,"v":-1.72},{"s":"y*, γ=-0.005","t":108.95,"v":-1.64},{"s":"y*, γ=-0.005","t":109.2,"v":-1.84},{"s":"y*, γ=-0.005","t":109.5,"v":-2.26},{"s":"y*, γ=-0.005","t":109.72,"v":-2.42},{"s":"y*, γ=-0.005","t":110.0,"v":-2.16}
]
},
"hconcat": [
{
  "width": 477, "height": 435,
  "title": {"text": "(a)", "orient": "bottom", "offset": 20},
  "resolve": {"axis": {"x": "independent", "y": "independent"}},
  "layer": [
    {"data": {"name": "traj"},
     "mark": {"type": "line", "interpolate": "catmull-rom", "strokeWidth": 3, "clip": true},
     "encoding": {
       "x": {"field": "x", "type": "quantitative", "scale": {"domain": [-6, 2], "nice": false, "zero": false},
         "axis": {"orient": "bottom", "values": [-6, -3, 0], "labelExpr": "toString(datum.value)", "tickSize": -10, "labelPadding": 17, "title": "x*", "titleY": 45, "titleBaseline": "alphabetic"}},
       "y": {"field": "y", "type": "quantitative", "scale": {"domain": [-4, 4], "nice": false, "zero": false},
         "axis": {"orient": "left", "values": [-3, 0, 3], "labelExpr": "toString(datum.value)", "tickSize": -10, "labelPadding": 18, "title": "y*", "titleX": -50, "titleY": 220, "titleBaseline": "middle", "titleAlign": "center"}},
       "order": {"value": null},
       "color": {"field": "g", "type": "nominal",
         "scale": {"domain": ["γ=0.000", "γ=-0.005", "γ=0.005"], "range": ["#00cc00", "#cc0000", "#606060"]},
         "legend": {"orient": "none", "legendX": 166, "legendY": 0, "title": " ", "titleFontSize": 9, "titlePadding": 5,
           "padding": 25, "strokeColor": "black", "fillColor": "white",
           "symbolType": "M-1,0H11.7", "symbolSize": 400, "symbolStrokeWidth": 3, "labelOffset": 128,
           "labelFont": "Liberation Sans", "labelFontSize": 26, "labelFontWeight": "bold", "labelColor": "black",
           "rowPadding": 8, "labelLimit": 400}}}},
    {"data": {"name": "dot"},
     "mark": {"type": "circle", "size": 620, "color": "black", "opacity": 1},
     "encoding": {
       "x": {"field": "x", "type": "quantitative", "scale": {"domain": [-6, 2], "nice": false, "zero": false},
         "axis": {"orient": "bottom", "values": [-5.4, -4.8, -4.2, -3.6, -2.4, -1.8, -1.2, -0.6, 0.6, 1.2, 1.8], "tickSize": -5, "labels": false, "title": null}},
       "y": {"field": "y", "type": "quantitative", "scale": {"domain": [-4, 4], "nice": false, "zero": false},
         "axis": {"orient": "left", "values": [-3.6, -2.4, -1.8, -1.2, -0.6, 0.6, 1.2, 1.8, 2.4, 3.6], "tickSize": -5, "labels": false, "title": null}}}}
  ]
},
{
  "width": 476, "height": 436,
  "title": {"text": "(b)", "orient": "bottom", "offset": 7},
  "data": {"name": "ts"},
  "resolve": {"axis": {"x": "independent", "y": "independent"}},
  "layer": [
    {"mark": {"type": "line", "interpolate": "monotone", "strokeWidth": 3.5},
     "encoding": {
       "x": {"field": "t", "type": "quantitative", "scale": {"domain": [100, 110], "nice": false, "zero": false},
         "axis": {"orient": "bottom", "values": [100, 102.5, 105, 107.5, 110], "labelExpr": "toString(datum.value)", "tickSize": -10, "labelPadding": 17, "title": "t", "titleY": 58, "titleBaseline": "alphabetic"}},
       "y": {"field": "v", "type": "quantitative", "scale": {"domain": [-3.5, 2.5], "nice": false, "zero": false},
         "axis": {"orient": "left", "values": [-2, 0, 2], "labelExpr": "toString(datum.value)", "tickSize": -10, "labelPadding": 18, "title": "Tip Coordinates", "titleX": -50, "titleY": 220, "titleBaseline": "middle", "titleAlign": "center"}},
       "color": {"field": "s", "type": "nominal",
         "scale": {"domain": ["x*, γ=0.005", "x*, γ=-0.005", "y*, γ=0.005", "y*, γ=-0.005"], "range": ["#000000", "#ff00ff", "#00cc00", "#cc0000"]},
         "legend": {"orient": "none", "legendX": 223, "legendY": 35, "title": null, "padding": 0,
           "symbolType": "M-1,0H7.4", "symbolSize": 400, "symbolStrokeWidth": 3.5, "labelOffset": 89,
           "labelFont": "Liberation Sans", "labelFontSize": 20, "labelFontWeight": "bold", "labelColor": "black",
           "rowPadding": 3, "labelLimit": 400}},
       "strokeDash": {"field": "s", "type": "nominal",
         "scale": {"domain": ["x*, γ=0.005", "x*, γ=-0.005", "y*, γ=0.005", "y*, γ=-0.005"], "range": [[22, 11], [13, 8], [22, 11], [13, 8]]},
         "legend": {"orient": "none", "legendX": 223, "legendY": 35, "title": null, "padding": 0,
           "symbolType": "M-1,0H7.4", "symbolSize": 400, "symbolStrokeWidth": 3.5, "labelOffset": 89,
           "labelFont": "Liberation Sans", "labelFontSize": 20, "labelFontWeight": "bold", "labelColor": "black",
           "rowPadding": 3, "labelLimit": 400}}}},
    {"mark": {"type": "point", "opacity": 0},
     "encoding": {
       "x": {"field": "t", "type": "quantitative", "scale": {"domain": [100, 110], "nice": false, "zero": false},
         "axis": {"orient": "bottom", "values": [100.5, 101, 101.5, 102, 103, 103.5, 104, 104.5, 105.5, 106, 106.5, 107, 108, 108.5, 109, 109.5], "tickSize": -5, "labels": false, "title": null}},
       "y": {"field": "v", "type": "quantitative", "scale": {"domain": [-3.5, 2.5], "nice": false, "zero": false},
         "axis": {"orient": "left", "values": [-3.2, -2.8, -2.4, -1.6, -1.2, -0.8, -0.4, 0.4, 0.8, 1.2, 1.6, 2.4], "tickSize": -5, "labels": false, "title": null}}}}
  ]
}
]
}
